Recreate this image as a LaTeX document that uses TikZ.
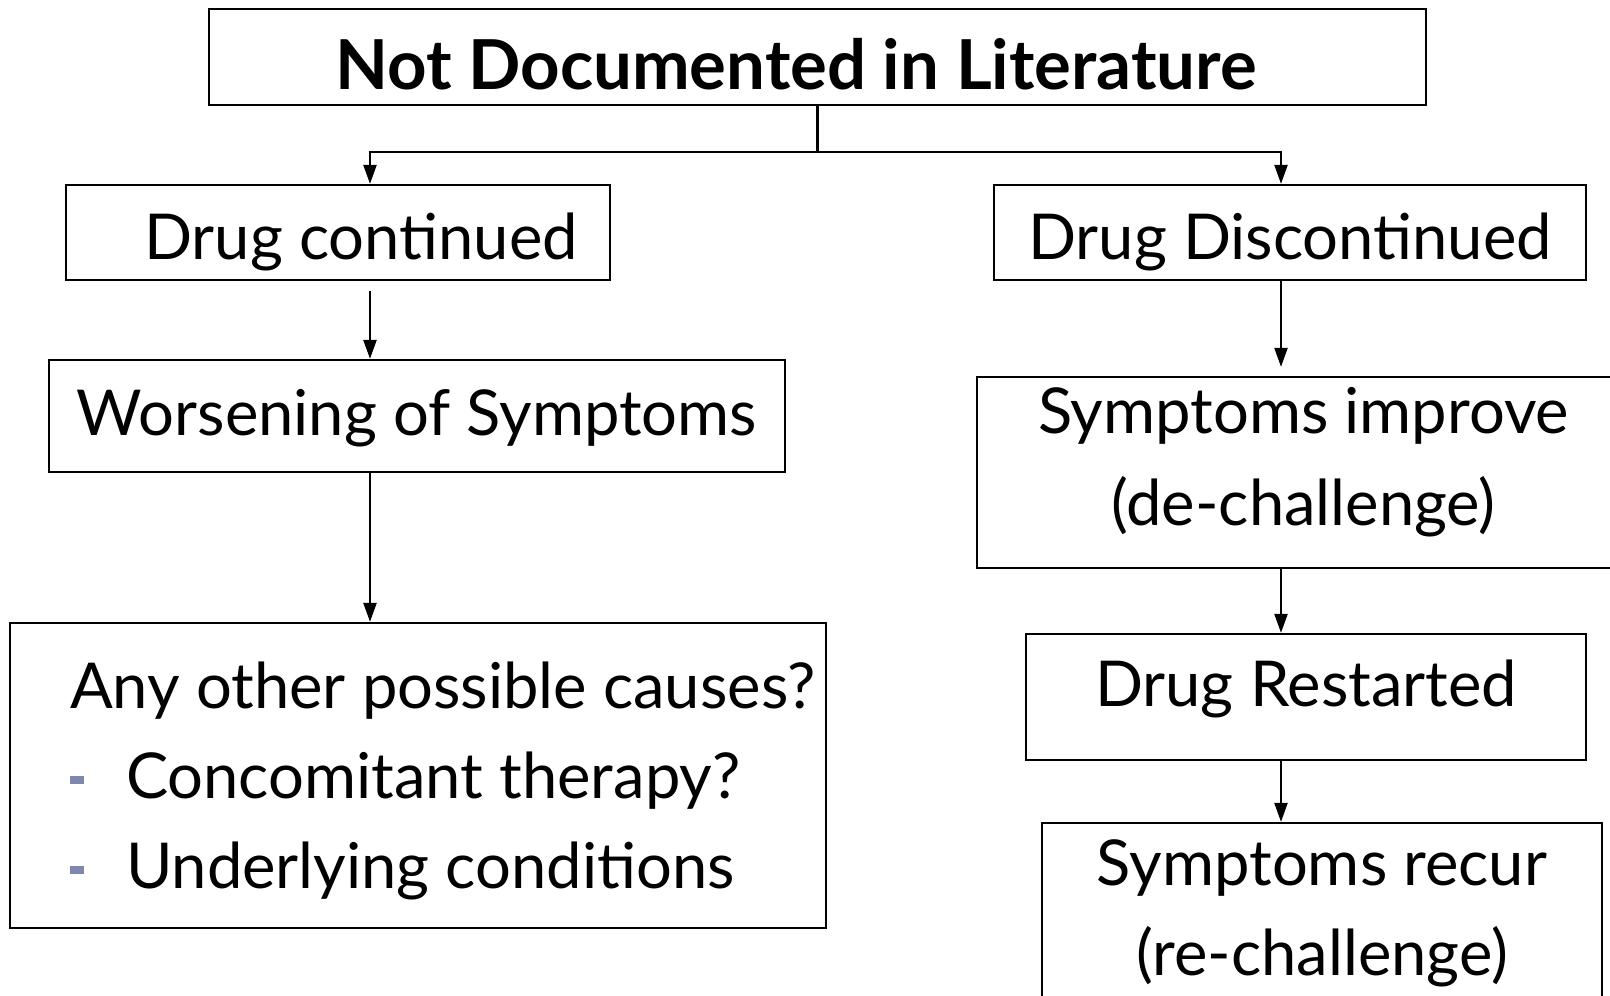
\documentclass[tikz,border=0pt]{standalone}
\usepackage{fontspec}
\setmainfont{Lato}
\usetikzlibrary{positioning, arrows.meta}
\definecolor{bulletcolor}{HTML}{7F87AE}
\newcommand{\sqbullet}{\textcolor{bulletcolor}{\rule[0.22em]{0.14cm}{0.08cm}}\hspace{0.42cm}}

\begin{document}
\begin{tikzpicture}[
        % Estilos de cajas y flechas
        box/.style={
            draw,
            line width=0.65pt,
            rectangle,
            align=center,
            inner sep=0pt,
            font=\fontsize{18}{25.6}\selectfont
        },
        arr/.style={-{Triangle[length=0.19cm, width=0.13cm]}, line width=0.65pt}
    ]
        \useasboundingbox (0,0) rectangle (16.1,-9.96);
        \clip (0,0) rectangle (16.1,-9.96);

        % Nodes
        \node[box, minimum width=12.17cm, text height=0.81cm, text depth=0.15cm,
              font=\fontsize{19.6}{24}\selectfont\bfseries] (title) at (8.175,-0.57)
            {Not Documented in Literature\hspace*{0.43cm}};
        \node[box, minimum width=5.44cm, text height=0.75cm, text depth=0.20cm] (cont) at (3.38,-2.325)
            {\hspace*{0.46cm}Drug continued};
        \node[box, minimum width=7.36cm, text height=0.75cm, text depth=0.37cm] (worse) at (4.17,-4.16)
            {Worsening of Symptoms};
        \node[box, minimum width=8.16cm, text height=2.65cm, text depth=0.40cm, align=left] (causes) at (4.18,-7.755)
            {\hspace*{0.5cm}Any other possible causes?\\
             \hspace*{0.5cm}\sqbullet Concomitant therapy?\\
             \hspace*{0.5cm}\sqbullet Underlying conditions};
        \node[box, minimum width=5.92cm, text height=0.75cm, text depth=0.20cm] (disc) at (12.90,-2.325)
            {Drug Discontinued};
        \node[box, minimum width=6.53cm, text height=1.49cm, text depth=0.42cm] (improve) at (13.035,-4.725)
            {Symptoms improve\\[0.03cm](de-challenge)};
        \node[box, minimum width=5.60cm, text height=0.72cm, text depth=0.54cm] (restart) at (13.06,-6.97)
            {Drug Restarted};
        \node[box, minimum width=5.60cm, text height=1.52cm, text depth=0.55cm] (recur) at (13.22,-9.265)
            {Symptoms recur\\(re-challenge)};

        % Columnas de flechas
        \coordinate (colL) at (3.70,0);
        \coordinate (colR) at (12.81,0);
        \coordinate (split) at (8.175,-1.52);

        % Lines
        \draw[line width=0.65pt] (title.south) -- (split);
        \draw[arr] (split) -| (cont.north -| colL);
        \draw[arr] (split) -| (disc.north -| colR);
        \draw[arr] ([yshift=-0.1cm]cont.south -| colL) -- (worse.north -| colL);
        \draw[arr] (worse.south -| colL) -- (causes.north -| colL);
        \draw[arr] (disc.south -| colR) -- ([yshift=0.09cm]improve.north -| colR);
        \draw[arr] (improve.south -| colR) -- (restart.north -| colR);
        \draw[arr] (restart.south -| colR) -- (recur.north -| colR);

    \end{tikzpicture}
\end{document}
